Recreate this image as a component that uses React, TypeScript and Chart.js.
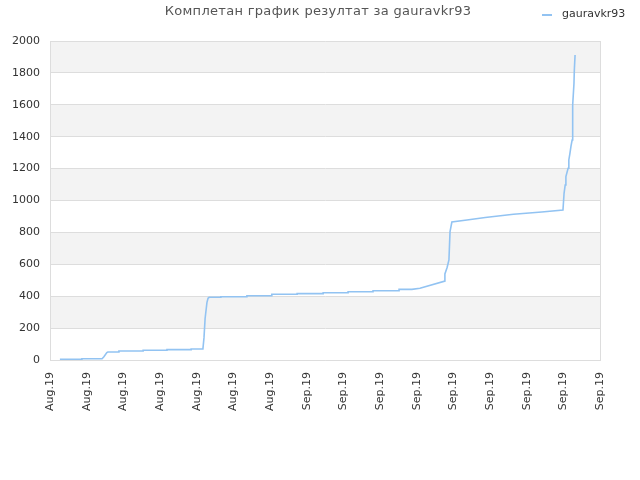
import { useEffect, useRef } from "react";
import { Chart, registerables } from "chart.js";

Chart.register(...registerables);

const chartTitle = "Комплетан график резултат за gauravkr93";
const seriesLabel = "gauravkr93";

// x in tick units (0 = first Aug.19 tick, 15 = last Sep.19 tick)
const pointX = [
  0.27, 0.87, 0.87, 1.42, 1.47, 1.55, 1.58, 1.88, 1.88, 2.54, 2.54, 3.19, 3.19,
  3.85, 3.85, 4.17, 4.2, 4.23, 4.28, 4.31, 4.34, 4.66, 4.66, 5.37, 5.37, 6.05,
  6.05, 6.74, 6.74, 7.45, 7.45, 8.13, 8.13, 8.81, 8.81, 9.52, 9.52, 9.87, 10.09,
  10.77, 10.77, 10.83, 10.88, 10.91, 10.96, 11.37, 11.87, 12.64, 13.41, 13.99,
  14.02, 14.05, 14.07, 14.13, 14.15, 14.18, 14.21, 14.24, 14.25, 14.26, 14.29,
  14.3, 14.32,
];
const pointY = [
  4, 4, 8, 8, 20, 46, 50, 50, 56, 56, 61, 61, 65, 65, 69, 69, 140, 260, 360,
  387, 393, 393, 397, 397, 403, 403, 412, 412, 416, 416, 422, 422, 428, 428,
  434, 434, 443, 443, 450, 495, 540, 580, 627, 805, 865, 878, 893, 914, 928,
  940, 1045, 1097, 1150, 1202, 1254, 1296, 1342, 1379, 1515, 1599, 1734, 1818,
  1912,
];

const xTickLabels = [
  "Aug.19", "Aug.19", "Aug.19", "Aug.19", "Aug.19", "Aug.19", "Aug.19",
  "Sep.19", "Sep.19", "Sep.19", "Sep.19", "Sep.19", "Sep.19", "Sep.19",
  "Sep.19", "Sep.19",
];
const yTicks = [0, 200, 400, 600, 800, 1000, 1200, 1400, 1600, 1800, 2000];

const lineColor = "#92c3f2";
const fontFamily = "'DejaVu Sans', sans-serif";

const bandsPlugin = {
  id: "bands",
  beforeDraw(chart: any) {
    const { ctx, chartArea, scales } = chart;
    ctx.save();
    ctx.fillStyle = "#f3f3f3";
    for (let i = yTicks.length - 1; i > 0; i -= 2) {
      const top = scales.y.getPixelForValue(yTicks[i]);
      const bottom = scales.y.getPixelForValue(yTicks[i - 1]);
      ctx.fillRect(chartArea.left, top, chartArea.right - chartArea.left, bottom - top);
    }
    ctx.restore();
  },
};

const headerPlugin = {
  id: "header",
  afterDraw(chart: any) {
    const { ctx } = chart;
    ctx.save();
    ctx.font = `13px ${fontFamily}`;
    ctx.letterSpacing = "0.3px";
    ctx.fillStyle = "#555";
    ctx.textAlign = "center";
    ctx.textBaseline = "middle";
    ctx.fillText(chartTitle, 318, 12);

    const ds = chart.data.datasets[0];
    ctx.letterSpacing = "0px";
    ctx.strokeStyle = ds.borderColor;
    ctx.lineWidth = 2;
    ctx.beginPath();
    ctx.moveTo(542, 15);
    ctx.lineTo(552, 15);
    ctx.stroke();
    ctx.font = `11px ${fontFamily}`;
    ctx.fillStyle = "#333";
    ctx.textAlign = "left";
    ctx.fillText(ds.label, 562, 14);
    ctx.restore();
  },
};

export default function App() {
  const chartRef = useRef<HTMLCanvasElement>(null);
  const chartInstance = useRef<Chart | null>(null);

  useEffect(() => {
    document.body.style.margin = "0";
    if (!chartRef.current) return;
    if (chartInstance.current) chartInstance.current.destroy();
    const ctx = chartRef.current.getContext("2d");
    if (!ctx) return;

    chartInstance.current = new Chart(ctx, {
      type: "line",
      data: {
        datasets: [
          {
            label: seriesLabel,
            data: pointX.map((x, i) => ({ x, y: pointY[i] })),
            borderColor: lineColor,
            backgroundColor: lineColor,
            borderWidth: 1.6,
            pointRadius: 0,
            tension: 0,
            fill: false,
          },
        ],
      },
      options: {
        responsive: false,
        animation: false,
        layout: { padding: { top: 41, right: 40, left: 0, bottom: 0 } },
        plugins: {
          legend: { display: false },
          title: { display: false },
          tooltip: { enabled: false },
        },
        scales: {
          x: {
            type: "linear",
            min: 0,
            max: xTickLabels.length - 1,
            afterFit: (scale: any) => {
              scale.height = 120;
            },
            afterBuildTicks: (scale: any) => {
              scale.ticks = xTickLabels.map((_, i) => ({ value: i }));
            },
            ticks: {
              autoSkip: false,
              minRotation: 90,
              maxRotation: 90,
              padding: 12,
              color: "#333",
              font: { family: fontFamily, size: 11 },
              callback: (_v: any, i: number) => xTickLabels[i],
            },
            grid: {
              drawTicks: false,
              color: (c: any) => (c.index === xTickLabels.length - 1 ? "#ddd" : "transparent"),
            },
            border: { color: "#ddd" },
          },
          y: {
            min: 0,
            max: 2000,
            afterFit: (scale: any) => {
              scale.width = 50;
            },
            afterBuildTicks: (scale: any) => {
              scale.ticks = yTicks.map((value) => ({ value }));
            },
            ticks: {
              padding: 10,
              color: "#333",
              font: { family: fontFamily, size: 11 },
              callback: (v: any) => String(v),
            },
            grid: { drawTicks: false, color: "#ddd" },
            border: { color: "#ddd" },
          },
        },
      },
      plugins: [bandsPlugin, headerPlugin],
    });

    return () => {
      if (chartInstance.current) {
        chartInstance.current.destroy();
        chartInstance.current = null;
      }
    };
  }, []);

  return <canvas ref={chartRef} width={640} height={480} style={{ display: "block" }} />;
}
